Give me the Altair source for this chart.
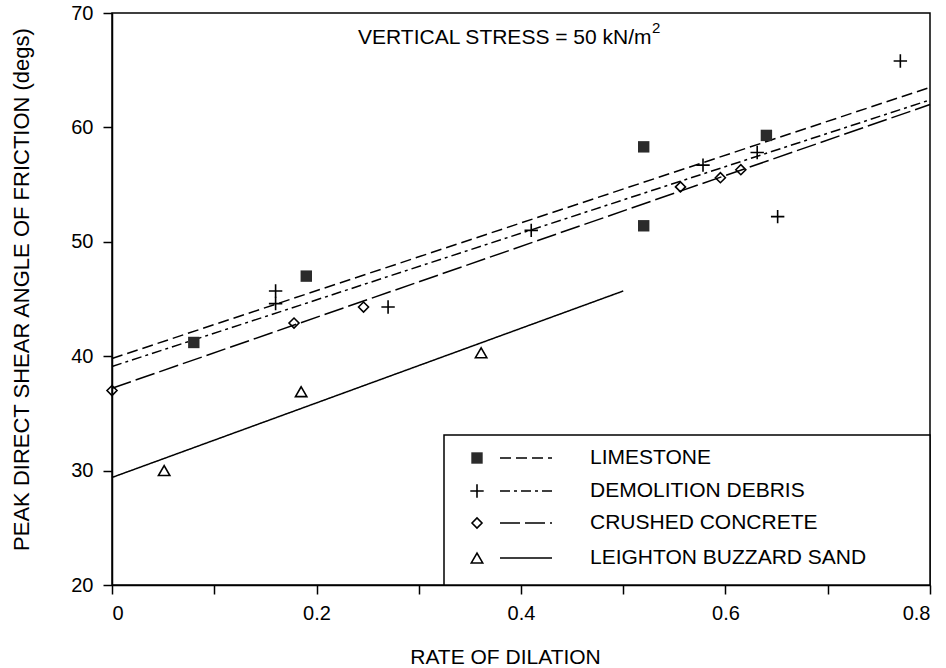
import altair as alt
import pandas as pd

# ---- data ----
series_names = ["LIMESTONE", "DEMOLITION DEBRIS", "CRUSHED CONCRETE", "LEIGHTON BUZZARD SAND"]

lime_x = [0.08, 0.19, 0.52, 0.52, 0.64]
lime_y = [41.2, 47.0, 58.3, 51.4, 59.3]

debris_x = [0.16, 0.16, 0.27, 0.41, 0.578, 0.631, 0.651, 0.771]
debris_y = [45.7, 44.6, 44.3, 51.0, 56.7, 57.8, 52.2, 65.8]

concrete_x = [0.0, 0.178, 0.246, 0.556, 0.595, 0.615]
concrete_y = [37.0, 42.9, 44.3, 54.8, 55.6, 56.3]

sand_x = [0.051, 0.185, 0.361]
sand_y = [30.0, 36.9, 40.3]

# fitted lines: start / end points
line_x0 = [0.0, 0.0, 0.0, 0.0]
line_x1 = [0.8, 0.8, 0.8, 0.5]
line_y0 = [39.8, 39.1, 37.2, 29.4]
line_y1 = [63.5, 62.4, 62.0, 45.7]

x_ticks = [0, 0.1, 0.2, 0.3, 0.4, 0.5, 0.6, 0.7, 0.8]
y_ticks = [20, 30, 40, 50, 60, 70]

title_main = "VERTICAL STRESS = 50 kN/m"
title_sup = "2"
x_title = "RATE OF DILATION"
y_title = "PEAK DIRECT SHEAR ANGLE OF FRICTION  (degs)"

# ---- styles ----
FONT = "Liberation Sans"
W, H = 818, 572
dashes = [[11, 5], [10, 4, 3, 4], [20, 5], [1, 0]]
plus_path = "M-1,0L1,0M0,-1L0,1"

xs = alt.Scale(domain=[0, 0.8], nice=False, zero=False)
ys = alt.Scale(domain=[20, 70], nice=False, zero=False)
dash_scale = alt.Scale(domain=series_names, range=dashes)

# line data
lines = pd.DataFrame({
    "name": series_names * 2,
    "x": line_x0 + line_x1,
    "y": line_y0 + line_y1,
    "o": [0] * 4 + [1] * 4,
})

base_x = alt.X("x:Q", scale=xs,
               axis=alt.Axis(values=x_ticks, title=x_title,
                             labelExpr="round(datum.value*10)%2==0 ? format(datum.value,'~g') : ''",
                             tickSize=9, labelPadding=9,
                             titleX=393, titleY=72, titleBaseline="middle"))
base_y = alt.Y("y:Q", scale=ys,
               axis=alt.Axis(values=y_ticks, title=y_title, tickSize=9, labelPadding=10,
                             titleX=-91, titleY=276, titleBaseline="middle", titleAngle=-90,
                             titleFontSize=22))

line_layer = alt.Chart(lines).mark_line(color="black", strokeWidth=1.5).encode(
    x=base_x, y=base_y,
    strokeDash=alt.StrokeDash("name:N", scale=dash_scale, legend=None),
    order="o:Q",
)

def pts(xv, yv, **mk):
    df = pd.DataFrame({"x": xv, "y": yv})
    return alt.Chart(df).mark_point(**mk).encode(
        x=alt.X("x:Q", scale=xs), y=alt.Y("y:Q", scale=ys))

mk_lime = dict(shape="square", filled=True, color="#2b2b2b", size=130, opacity=1)
mk_debris = dict(shape=plus_path, filled=False, color="black", size=180, strokeWidth=1.6, opacity=1)
mk_conc = dict(shape="diamond", filled=False, color="black", size=100, strokeWidth=1.6, opacity=1)
mk_sand = dict(shape="triangle-up", filled=False, color="black", size=130, strokeWidth=1.6, opacity=1)

p1 = pts(lime_x, lime_y, **mk_lime)
p2 = pts(debris_x, debris_y, **mk_debris)
p3 = pts(concrete_x, concrete_y, **mk_conc)
p4 = pts(sand_x, sand_y, **mk_sand)

# title text inside plot
title_layer = alt.Chart(pd.DataFrame({"t": [title_main]})).mark_text(
    font=FONT, fontSize=21, color="black", align="left", baseline="middle"
).encode(x=alt.value(246), y=alt.value(25), text="t:N")
sup_layer = alt.Chart(pd.DataFrame({"t": [title_sup]})).mark_text(
    font=FONT, fontSize=15, color="black", align="left", baseline="middle"
).encode(x=alt.value(540), y=alt.value(15), text="t:N")

# ---- legend box (layout in pixels) ----
box = alt.Chart(pd.DataFrame({"a": [0]})).mark_rect(
    fill="white", stroke="black", strokeWidth=1.5
).encode(x=alt.value(332), x2=alt.value(W), y=alt.value(422), y2=alt.value(H))

row_y = [445, 478, 510, 545]
leg = pd.DataFrame({"name": series_names, "py": row_y})
leg_lines = alt.Chart(leg).mark_rule(color="black", strokeWidth=1.5).encode(
    x=alt.value(388), x2=alt.value(440),
    y=alt.Y("py:Q", scale=None),
    strokeDash=alt.StrokeDash("name:N", scale=dash_scale, legend=None),
)
leg_text = alt.Chart(leg).mark_text(
    font=FONT, fontSize=21, color="black", align="left", baseline="middle"
).encode(x=alt.value(478), y=alt.Y("py:Q", scale=None), text="name:N")

mk_list = [mk_lime, mk_debris, mk_conc, mk_sand]
leg_marks = []
for i, mk in enumerate(mk_list):
    d = pd.DataFrame({"py": [row_y[i]]})
    leg_marks.append(alt.Chart(d).mark_point(**mk).encode(
        x=alt.value(365), y=alt.Y("py:Q", scale=None)))

chart = alt.layer(
    line_layer, p1, p2, p3, p4, title_layer, sup_layer, box, leg_lines, leg_text, *leg_marks
).properties(
    width=W, height=H,
    autosize=alt.AutoSizeParams(type="none"),
    padding={"left": 112, "top": 13, "right": 16, "bottom": 83},
    background="white",
).configure_view(
    stroke="black", strokeWidth=1.5
).configure_axis(
    grid=False, domainColor="black", tickColor="black", labelColor="black",
    titleColor="black", labelFont=FONT, titleFont=FONT, labelFontSize=20,
    titleFontSize=21, titleFontWeight="normal", domainWidth=1.5, tickWidth=1.5,
)

chart.save("out.html", embed_options={"renderer": "svg", "actions": False})
